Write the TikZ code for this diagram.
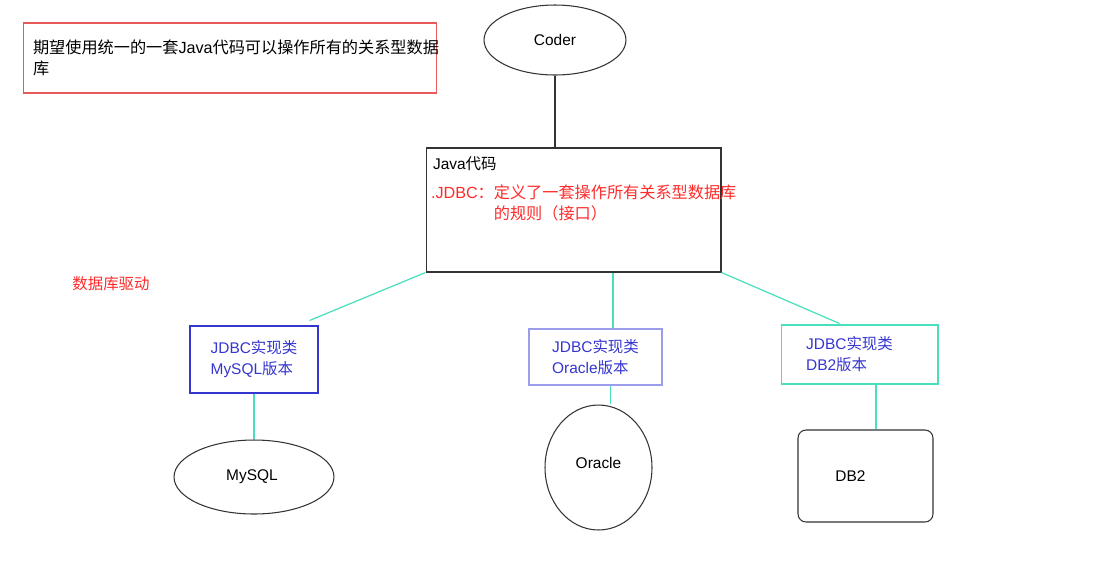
\documentclass[tikz,border=0pt]{standalone}
\usepackage{fontspec}
\setmainfont{Liberation Sans}
\newfontfamily\cjk{Noto Sans CJK SC}
\newcommand{\zh}[1]{{\cjk #1}}
\usetikzlibrary{shapes.geometric}
\definecolor{cred}{HTML}{FF2A2A}
\definecolor{cboxred}{HTML}{E85A5A}
\definecolor{cteal}{HTML}{48E0BC}
\definecolor{cblue}{HTML}{3535D0}
\definecolor{clav}{HTML}{9C9CEC}
\definecolor{cdark}{HTML}{333333}
\tikzset{
  every picture/.style={font=\fontsize{8.8}{12}\selectfont, line width=0.6pt},
  bigger/.style={font=\fontsize{9.2}{12}\selectfont},
  plain/.style={draw=cdark, align=center, inner sep=0pt},
  oval/.style={plain, ellipse},
  implbox/.style={draw=#1, text=cblue, align=left, inner sep=0pt},
  link/.style={draw=cteal, line width=0.7pt},
  redtext/.style={text=cred, align=left, inner sep=0pt},
}

\begin{document}
\begin{tikzpicture}[x=0.02cm, y=-0.02cm]
  \useasboundingbox (0,0) rectangle (1115,569);
  % goal
  \node[draw=cboxred, bigger, align=left, text width=7.88cm, inner xsep=0.2cm, minimum height=1.4cm] (goal) at (230,58)
    {\zh{期望使用统一的一套}Java\zh{代码可以操作所有的关系型数据}\\\zh{库}};
  % top part
  \node[oval, minimum width=2.84cm, minimum height=1.4cm] (coder) at (555,40) {Coder};
  \node[plain, minimum width=5.9cm, minimum height=2.48cm] (java) at (573.5,210) {};
  \node[anchor=north west, inner sep=0pt] (javatitle) at ([shift={(0.14cm,-0.18cm)}]java.north west) {Java\zh{代码}};
  \node[redtext, bigger, anchor=north west] (jdbc) at ([shift={(0.1cm,-0.74cm)}]java.north west)
    {.JDBC\zh{：定义了一套操作所有关系型数据库}\\\phantom{.JDBC\zh{：}}\zh{的规则（接口）}};
  \node[redtext] (driver) at (111,284) {\zh{数据库驱动}};
  \draw[cdark] (coder.south) -- (coder.south |- java.north);
  % implementations
  \node[implbox=cblue, minimum width=2.56cm, minimum height=1.34cm] (mysqlimpl) at (254,359.5) {JDBC\zh{实现类}\\MySQL\zh{版本}};
  \node[implbox=clav, minimum width=2.66cm, minimum height=1.12cm] (oracleimpl) at (595.5,357) {JDBC\zh{实现类}\\Oracle\zh{版本}};
  \node[implbox=cteal, minimum width=3.14cm, minimum height=1.18cm] (db2impl) at (859.5,354.5) {JDBC\zh{实现类}\rule{0.4cm}{0pt}\\DB2\zh{版本}};
  \draw[link] (java.south west) -- ([shift={(-0.18cm,0.1cm)}]mysqlimpl.north east);
  \draw[link] ([xshift=0.35cm]oracleimpl.north) -- ([xshift=0.35cm]oracleimpl.north |- java.south);
  \draw[link] (java.south east) -- ([shift={(-0.4cm,0.02cm)}]db2impl.north);
  % databases
  \node[oval, minimum width=3.2cm, minimum height=1.48cm] (mysql) at (254,477) {MySQL\hspace{0.08cm}};
  \node[oval, minimum width=2.14cm, minimum height=2.5cm] (oracle) at (598.5,467.5) {\raisebox{0.2cm}{Oracle}};
  \node[plain, rounded corners=0.16cm, minimum width=2.7cm, minimum height=1.84cm] (db2) at (865.5,476) {DB2\hspace{0.6cm}};
  \draw[link] (mysqlimpl.south) -- (mysql.north);
  \draw[link] ([xshift=0.3cm]oracleimpl.south) -- ([xshift=0.3cm]oracleimpl.south |- oracle.north);
  \draw[link] ([xshift=0.33cm]db2impl.south) -- ([xshift=0.33cm]db2impl.south |- db2.north);
\end{tikzpicture}
\end{document}
